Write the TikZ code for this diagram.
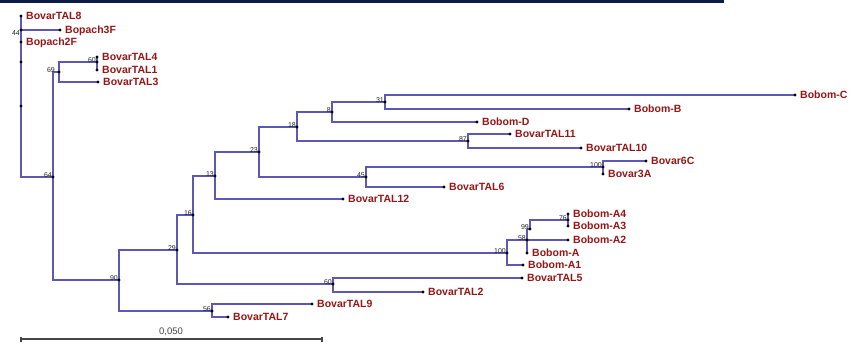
\documentclass[tikz,border=0pt]{standalone}
\usepackage{fontspec}
\setmainfont{Liberation Sans}
\definecolor{brc}{RGB}{92,88,180}
\definecolor{labc}{RGB}{150,22,22}
\definecolor{bsc}{RGB}{35,35,35}
\definecolor{navyc}{RGB}{14,26,72}
\definecolor{scalec}{RGB}{70,70,70}
\begin{document}
\begin{tikzpicture}[x=1pt,y=-1pt,
 dot/.style={circle,inner sep=0pt,minimum size=3.4pt},
 edge/.style={draw=brc,line width=1.2pt},
 lab/.style={anchor=base west,inner sep=0pt,xshift=5pt,yshift=-3.7pt,text=labc,font=\fontsize{10.5}{12}\selectfont\bfseries},
 bs/.style={anchor=south east,inner sep=0pt,xshift=-1pt,yshift=-0.3pt,text=bsc,font=\fontsize{7}{8}\selectfont}]
\useasboundingbox (0,0) rectangle (856,344);
\fill[navyc] (0,0) rectangle (724,3.2);

% tree nodes
\node[dot] (r8) at (21,16) {};
\node[dot] (n44) at (21,30) {};
\node[dot] (p2F) at (21,42) {};
\node[dot] (d62) at (21,62) {};
\node[dot] (d106) at (21,106) {};
\coordinate (r177) at (21,177);
\node[dot] (p3F) at (60,30) {};
\node[dot] (n64) at (53,177) {};
\node[dot] (n69) at (59,72) {};
\node[dot] (n60a) at (97,62) {};
\node[dot] (t4) at (97,57) {};
\node[dot] (t1) at (97,70) {};
\node[dot] (t3) at (98,82) {};
\node[dot] (n90) at (119,280) {};
\node[dot] (n29) at (177,250) {};
\node[dot] (n56) at (212,311) {};
\node[dot] (t9) at (312,304) {};
\node[dot] (t7) at (228,317) {};
\node[dot] (n16) at (193,215) {};
\node[dot] (n60b) at (333,284) {};
\node[dot] (t5) at (522,278) {};
\node[dot] (t2) at (423,292) {};
\node[dot] (n13) at (215,176) {};
\node[dot] (n100a) at (507,253) {};
\node[dot] (n23) at (259,152) {};
\node[dot] (t12) at (343,199) {};
\node[dot] (n18) at (297,127) {};
\node[dot] (n45) at (366,177) {};
\node[dot] (n8) at (332,112) {};
\node[dot] (n87) at (468,141) {};
\node[dot] (n31) at (385,102) {};
\node[dot] (bD) at (477,122) {};
\node[dot] (bC) at (795,95) {};
\node[dot] (bB) at (629,109) {};
\node[dot] (t11) at (510,134) {};
\node[dot] (t10) at (581,148) {};
\node[dot] (n100b) at (603,167) {};
\node[dot] (c6) at (646,161) {};
\node[dot] (c3) at (603,174) {};
\node[dot] (t6) at (444,187) {};
\node[dot] (n58) at (527,240) {};
\coordinate (n58v) at (527,229);
\node[dot] (a1) at (523,265) {};
\node[dot] (bA) at (527,253) {};
\node[dot] (a2) at (568,240) {};
\node[dot] (n99) at (530,229) {};
\node[dot] (n76) at (568,220) {};
\node[dot] (a4) at (568,214) {};
\node[dot] (a3) at (568,226) {};

% branches
\draw[edge] (r8.center) -- (n44.center) -- (p2F.center) -- (d62.center) -- (d106.center) -- (r177) -- (n64.center);
\draw[edge] (n44.center) -- (p3F.center);
\draw[edge] (n64.center) |- (n69.center);
\draw[edge] (n64.center) |- (n90.center);
\draw[edge] (n69.center) |- (n60a.center);
\draw[edge] (n69.center) |- (t3.center);
\draw[edge] (t4.center) -- (n60a.center) -- (t1.center);
\draw[edge] (n90.center) |- (n29.center);
\draw[edge] (n90.center) |- (n56.center);
\draw[edge] (n56.center) |- (t9.center);
\draw[edge] (n56.center) |- (t7.center);
\draw[edge] (n29.center) |- (n16.center);
\draw[edge] (n29.center) |- (n60b.center);
\draw[edge] (n16.center) |- (n13.center);
\draw[edge] (n16.center) |- (n100a.center);
\draw[edge] (n60b.center) |- (t5.center);
\draw[edge] (n60b.center) |- (t2.center);
\draw[edge] (n13.center) |- (n23.center);
\draw[edge] (n13.center) |- (t12.center);
\draw[edge] (n23.center) |- (n18.center);
\draw[edge] (n23.center) |- (n45.center);
\draw[edge] (n18.center) |- (n8.center);
\draw[edge] (n18.center) |- (n87.center);
\draw[edge] (n8.center) |- (n31.center);
\draw[edge] (n8.center) |- (bD.center);
\draw[edge] (n31.center) |- (bC.center);
\draw[edge] (n31.center) |- (bB.center);
\draw[edge] (n87.center) |- (t11.center);
\draw[edge] (n87.center) |- (t10.center);
\draw[edge] (n45.center) |- (n100b.center);
\draw[edge] (n45.center) |- (t6.center);
\draw[edge] (n100b.center) |- (c6.center);
\draw[edge] (n100b.center) -- (c3.center);
\draw[edge] (n100a.center) |- (n58.center);
\draw[edge] (n100a.center) |- (a1.center);
\draw[edge] (n58v) -- (n58.center) -- (bA.center);
\draw[edge] (n58.center) -- (a2.center);
\draw[edge] (n58v) -- (n99.center);
\draw[edge] (n99.center) |- (n76.center);
\draw[edge] (a4.center) -- (n76.center) -- (a3.center);

% dots on top
\foreach \n in {r8,n44,p2F,d62,d106,p3F,n64,n69,n60a,t4,t1,t3,n90,n29,n56,t9,t7,n16,n60b,t5,t2,n13,n100a,n23,t12,n18,n45,n8,n87,n31,bD,bC,bB,t11,t10,n100b,c6,c3,t6,n58,a1,bA,a2,n99,n76,a4,a3}
  \fill[black] (\n.center) circle (1.7pt);

% leaf labels
\node[lab] (l8) at (r8) {BovarTAL8};
\node[lab] (l3F) at (p3F) {Bopach3F};
\node[lab] (l2F) at (p2F) {Bopach2F};
\node[lab] (l4) at (t4) {BovarTAL4};
\node[lab] (l1) at (t1) {BovarTAL1};
\node[lab] (l3) at (t3) {BovarTAL3};
\node[lab] (lC) at (bC) {Bobom-C};
\node[lab] (lB) at (bB) {Bobom-B};
\node[lab] (lD) at (bD) {Bobom-D};
\node[lab] (l11) at (t11) {BovarTAL11};
\node[lab] (l10) at (t10) {BovarTAL10};
\node[lab] (l6C) at (c6) {Bovar6C};
\node[lab] (l3A) at (c3) {Bovar3A};
\node[lab] (l6) at (t6) {BovarTAL6};
\node[lab] (l12) at (t12) {BovarTAL12};
\node[lab] (lA4) at (a4) {Bobom-A4};
\node[lab] (lA3) at (a3) {Bobom-A3};
\node[lab] (lA2) at (a2) {Bobom-A2};
\node[lab] (lA) at (bA) {Bobom-A};
\node[lab] (lA1) at (a1) {Bobom-A1};
\node[lab] (l5) at (t5) {BovarTAL5};
\node[lab] (l2) at (t2) {BovarTAL2};
\node[lab] (l9) at (t9) {BovarTAL9};
\node[lab] (l7) at (t7) {BovarTAL7};

% bootstrap values
\node[bs,anchor=east,yshift=-2.5pt] (b44) at (n44) {44};
\node[bs] (b60a) at (n60a) {60};
\node[bs,xshift=-3pt] (b69) at (n69) {69};
\node[bs] (b64) at (n64) {64};
\node[bs] (b90) at (n90) {90};
\node[bs] (b29) at (n29) {29};
\node[bs] (b56) at (n56) {56};
\node[bs] (b16) at (n16) {16};
\node[bs] (b60b) at (n60b) {60};
\node[bs] (b13) at (n13) {13};
\node[bs] (b23) at (n23) {23};
\node[bs] (b18) at (n18) {18};
\node[bs] (b8) at (n8) {8};
\node[bs] (b31) at (n31) {31};
\node[bs] (b87) at (n87) {87};
\node[bs] (b45) at (n45) {45};
\node[bs] (b100b) at (n100b) {100};
\node[bs] (b100a) at (n100a) {100};
\node[bs] (b58) at (n58) {58};
\node[bs] (b99) at (n99) {99};
\node[bs] (b76) at (n76) {76};

% scale bar
\coordinate (s0) at (21,339);
\coordinate (s1) at (322,339);
\draw[scalec,line width=1.1pt] (s0) -- (s1);
\draw[scalec,line width=1.1pt] ([yshift=2.5pt]s0) -- ([yshift=-2.5pt]s0);
\draw[scalec,line width=1.1pt] ([yshift=2.5pt]s1) -- ([yshift=-2.5pt]s1);
\node[text=scalec,font=\fontsize{9.5}{11}\selectfont,inner sep=0pt] (sl) at (171,332) {0,050};
\end{tikzpicture}
\end{document}
